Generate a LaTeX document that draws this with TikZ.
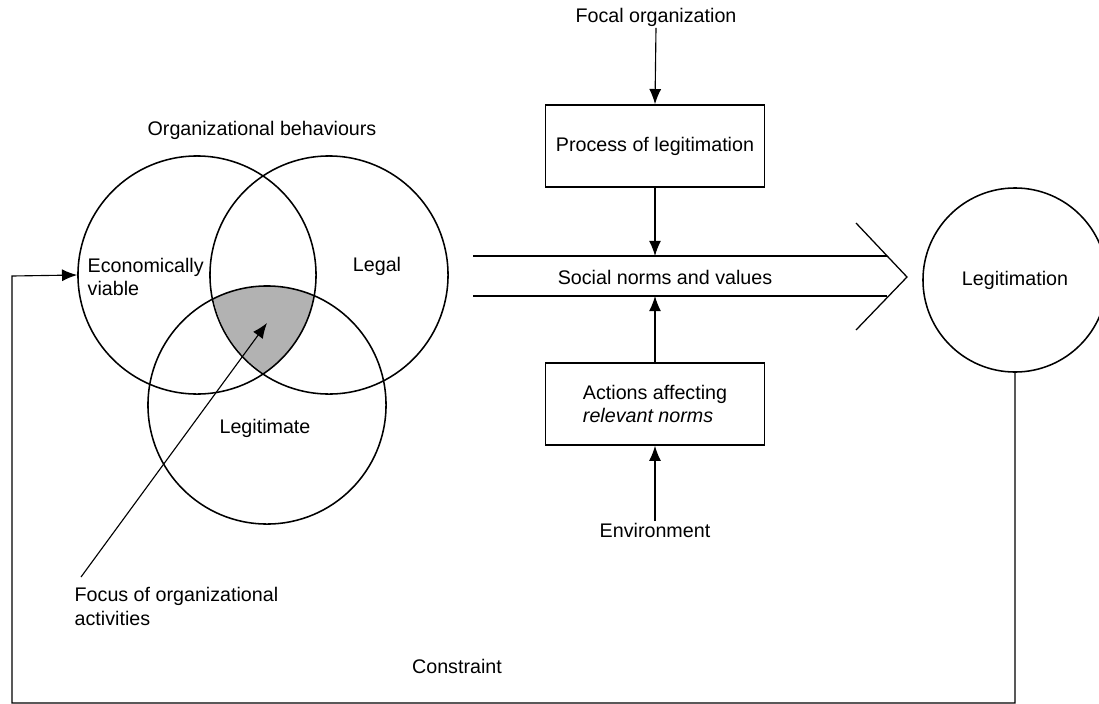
\documentclass[tikz,border=0pt]{standalone}
\usepackage{fontspec}
\setmainfont{Liberation Sans}
\usetikzlibrary{arrows.meta}

\tikzset{
  arr/.style={-{Latex[length=3.8mm,width=3mm]}, line width=0.8pt},
  venn/.style={circle, draw, line width=1.1pt, inner sep=0pt, minimum size=5.95cm},
  boxnode/.style={draw, line width=1.1pt, minimum width=5.475cm, minimum height=2.05cm, align=left},
  lbl/.style={inner sep=1pt, align=left}
}

\begin{document}
\begin{tikzpicture}[x=0.025cm, y=-0.025cm, font=\fontsize{14}{17}\selectfont]
  \useasboundingbox (0,0) rectangle (1099,704);

  % Venn diagram
  \begin{scope}
    \clip (197,275) circle (2.975cm);
    \clip (329,275) circle (2.95cm);
    \fill[gray!60] (267,405) circle (2.975cm);
  \end{scope}
  \node[venn] (econ) at (197,275) {};
  \node[venn] (legal) at (329,275) {};
  \node[venn] (legitimate) at (267,405) {};

  \node[lbl] (behav) at (262,130) {Organizational behaviours};
  \node[lbl, anchor=west] (econlbl) at (86,277) {Economically\\viable};
  \node[lbl] (legallbl) at (377,266) {Legal};
  \node[lbl] (legitlbl) at (265,428) {Legitimate};

  % focus of activities
  \coordinate (core) at (267,323);
  \coordinate (fstart) at (81,577);
  \node[lbl, anchor=north west] (focus) at (73,586) {Focus of organizational\\activities};
  \draw[arr] (fstart) -- (core);

  % middle column
  \node[lbl] (focal) at (656,17) {Focal organization};
  \node[boxnode, align=center] (proc) at (655,146) {Process of legitimation};
  \node[boxnode] (act) at (655,404) {Actions affecting\\\textit{relevant norms}};
  \node[lbl] (env) at (655,530) {Environment};

  % broad arrow
  \coordinate (bandtop) at (473,256);
  \coordinate (bandbot) at (473,296);
  \draw[line width=0.8pt] (bandtop) -- (887,256);
  \draw[line width=0.8pt] (bandbot) -- (887,296);
  \draw[line width=0.9pt] (856,223) -- (907,277) -- (856,330);
  \node[lbl] (social) at (665,277) {Social norms and values};

  \draw[arr] (focal.south) -- (proc.north);
  \draw[arr] (proc.south) -- (proc.south |- bandtop);
  \draw[arr] (act.north) -- (act.north |- bandbot);
  \draw[arr] (env.north) -- (act.south);

  % outcome and feedback
  \node[circle, draw, line width=1.1pt, minimum size=4.6cm, inner sep=0pt] (legit) at (1015,280) {Legitimation};
  \coordinate (loopbot) at (1015,703);
  \draw[arr] (legit.south) -- (loopbot) -| (12,276) -- (econ.west);
  \node[lbl] (constr) at (457,666) {Constraint};
\end{tikzpicture}
\end{document}
